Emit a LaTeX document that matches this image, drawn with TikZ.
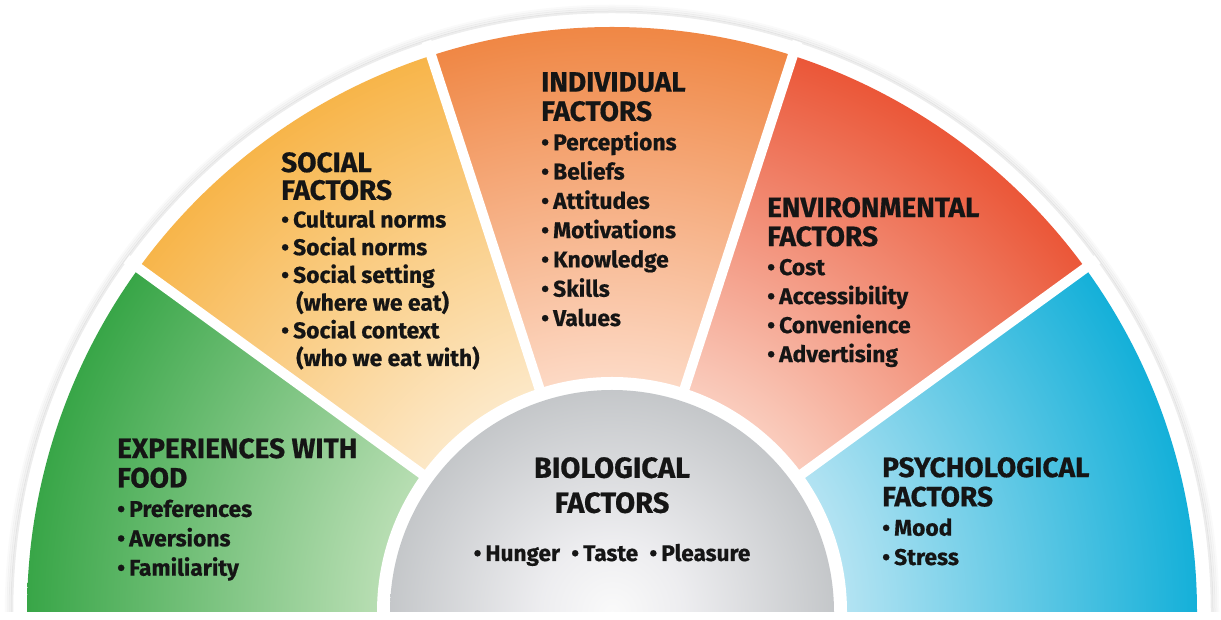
\documentclass[tikz,border=0pt]{standalone}
\usepackage{fontspec}
\setmainfont{Fira Sans}[BoldFeatures={FakeBold=0.6}]
\usetikzlibrary{calc}

% radial colour ramps: light near the hub (10bp = r 235), deep at the rim (25bp = r 585)
\pgfdeclareradialshading{greenramp}{\pgfpoint{0bp}{0bp}}{rgb(0bp)=(0.72,0.87,0.70); rgb(10bp)=(0.72,0.87,0.70); rgb(25bp)=(0.22,0.65,0.28); rgb(50bp)=(0.22,0.65,0.28)}
\pgfdeclareradialshading{yellowramp}{\pgfpoint{0bp}{0bp}}{rgb(0bp)=(0.99,0.91,0.78); rgb(10bp)=(0.99,0.91,0.78); rgb(25bp)=(0.97,0.71,0.29); rgb(50bp)=(0.97,0.71,0.29)}
\pgfdeclareradialshading{orangeramp}{\pgfpoint{0bp}{0bp}}{rgb(0bp)=(0.99,0.85,0.77); rgb(10bp)=(0.99,0.85,0.77); rgb(25bp)=(0.94,0.53,0.27); rgb(50bp)=(0.94,0.53,0.27)}
\pgfdeclareradialshading{redramp}{\pgfpoint{0bp}{0bp}}{rgb(0bp)=(0.98,0.80,0.74); rgb(10bp)=(0.98,0.80,0.74); rgb(25bp)=(0.92,0.34,0.22); rgb(50bp)=(0.92,0.34,0.22)}
\pgfdeclareradialshading{blueramp}{\pgfpoint{0bp}{0bp}}{rgb(0bp)=(0.70,0.89,0.95); rgb(10bp)=(0.70,0.89,0.95); rgb(25bp)=(0.08,0.69,0.85); rgb(50bp)=(0.08,0.69,0.85)}
\pgfdeclareradialshading{greyramp}{\pgfpoint{0bp}{0bp}}{rgb(0bp)=(0.98,0.98,0.98); rgb(8bp)=(0.93,0.93,0.94); rgb(25bp)=(0.77,0.78,0.79); rgb(50bp)=(0.77,0.78,0.79)}

\definecolor{inkblack}{HTML}{151515}
\newcommand{\bul}{•\hspace{0.18em}}
\newcommand{\hang}{\hspace*{0.66em}}
% header lines keep the leading of the surrounding block
\newcommand{\hd}[1]{{\fontsize{28}{\baselineskip}\selectfont #1}}

\tikzset{
  factortext/.style={anchor=north west, inner sep=0pt, align=left, text=inkblack,
    font=\fontsize{22.8}{#1}\selectfont\bfseries},
  factortext/.default=29.3,
  separator/.style={white, line width=10pt},
}

\begin{document}
\begin{tikzpicture}[x=1pt,y=1pt]
\useasboundingbox (0,0) rectangle (1221,620);
\fill[white] (0,0) rectangle (1221,620);
\coordinate (C) at (612,8);

% soft shadow round the white rim
\foreach \r/\o in {606/0.02,604/0.035,602/0.05,600/0.07}
  \draw[black, opacity=\o, line width=2.5pt] (C) ++(0:\r) arc (0:180:\r);
\fill[white] (C) ++(0:598) arc (0:180:598) -- cycle;

% the five coloured sectors
\foreach \a/\b/\sh in {144/180/greenramp,108/144/yellowramp,72/108/orangeramp,36/72/redramp,0/36/blueramp}{
  \begin{scope}
    \clip (C) -- ++(\a:585) arc (\a:\b:585) -- cycle;
    \shade[shading=\sh] (C) circle (585);
  \end{scope}
}

% white gaps between sectors
\foreach \a in {36,72,108,144}
  \draw[separator] (C) -- ++(\a:600);

% hub
\fill[white] (C) ++(0:235) arc (0:180:235) -- cycle;
\begin{scope}
  \clip (C) ++(0:222) arc (0:180:222) -- cycle;
  \shade[shading=greyramp] (C) circle (222);
\end{scope}

% labels
\node[factortext=29.4] (food) at (117,182) {\hd{EXPERIENCES WITH}\\\hd{FOOD}\\
  \bul Preferences\\\bul Aversions\\\bul Familiarity};

\node[factortext=27.7] (social) at (281,468) {\hd{SOCIAL}\\\hd{FACTORS}\\
  \bul Cultural norms\\\bul Social norms\\\bul Social setting\\\hang(where we eat)\\
  \bul Social context\\\hang(who we eat with)};

\node[factortext=29.3] (individual) at (541,548) {\hd{INDIVIDUAL}\\\hd{FACTORS}\\
  \bul Perceptions\\\bul Beliefs\\\bul Attitudes\\\bul Motivations\\
  \bul Knowledge\\\bul Skills\\\bul Values};

\node[factortext=29.0] (environmental) at (767,423) {\hd{ENVIRONMENTAL}\\\hd{FACTORS}\\
  \bul Cost\\\bul Accessibility\\\bul Convenience\\\bul Advertising};

\node[factortext=29.3] (psychological) at (882,163) {\hd{PSYCHOLOGICAL}\\\hd{FACTORS}\\
  \bul Mood\\\bul Stress};

\node[anchor=north, inner sep=0pt, align=center, text=inkblack,
      font=\fontsize{29}{35}\selectfont\bfseries] (biological) at (612,163)
  {BIOLOGICAL\\FACTORS};
\node[anchor=base, inner sep=0pt, text=inkblack,
      font=\fontsize{22.6}{29.4}\selectfont\bfseries] (bioitems) at (612,59)
  {\bul Hunger\hspace{0.5em}\bul Taste\hspace{0.5em}\bul Pleasure};
\end{tikzpicture}
\end{document}
